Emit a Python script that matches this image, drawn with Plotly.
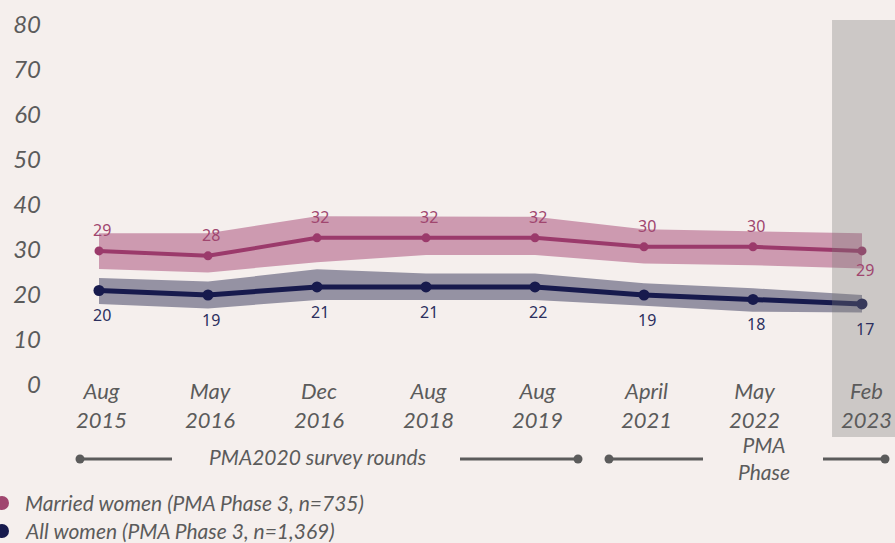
import plotly.graph_objects as go

# ---- data ----
categories = ["Aug<br>2015", "May<br>2016", "Dec<br>2016", "Aug<br>2018",
              "Aug<br>2019", "April<br>2021", "May<br>2022", "Feb<br>2023"]
married = [29.8, 28.7, 32.7, 32.7, 32.7, 30.7, 30.7, 29.8]
married_hi = [33.7, 33.7, 37.5, 37.4, 37.4, 34.6, 34.1, 33.7]
married_lo = [25.8, 25.0, 27.3, 28.9, 28.9, 27.0, 26.6, 25.9]
married_labels = ["29", "28", "32", "32", "32", "30", "30", "29"]

allw = [21.0, 20.0, 21.8, 21.8, 21.8, 20.0, 19.0, 18.0]
allw_hi = [23.8, 23.0, 25.7, 24.8, 24.8, 22.6, 21.5, 20.0]
allw_lo = [18.0, 17.0, 18.9, 18.9, 18.9, 17.6, 16.3, 16.1]
allw_labels = ["20", "19", "21", "21", "22", "19", "18", "17"]

y_ticks = [0, 10, 20, 30, 40, 50, 60, 70, 80]
legend_names = ["Married women (PMA Phase 3, n=735)", "All women (PMA Phase 3, n=1,369)"]

# ---- style ----
BG = "#f5efed"
M_LINE = "#9b3a6b"
M_BAND = "#cd9ab0"
M_TEXT = "#a0466f"
A_LINE = "#171a4d"
A_BAND = "#9592a3"
A_TEXT = "#2c2f5e"
GREY = "#5b5b5b"
W, H = 895, 543
L, R, T, B = 50, 0, 20, 106
PW, PH = W - L - R, H - T - B

def pxx(x):
    return (x - L) / PW

def pxy(y):
    return (H - B - y) / PH

x = list(range(len(categories)))

fig = go.Figure()

def band(hi, lo, color):
    fig.add_trace(go.Scatter(x=x, y=hi, mode="lines", line=dict(width=0, color=color),
                             showlegend=False, hoverinfo="skip"))
    fig.add_trace(go.Scatter(x=x, y=lo, mode="lines", line=dict(width=0, color=color),
                             fill="tonexty", fillcolor=color, showlegend=False, hoverinfo="skip"))

band(married_hi, married_lo, M_BAND)
band(allw_hi, allw_lo, A_BAND)

fig.add_trace(go.Scatter(x=x, y=married, mode="lines+markers",
                         line=dict(color=M_LINE, width=4), marker=dict(size=9, color=M_LINE),
                         showlegend=False))
fig.add_trace(go.Scatter(x=x, y=allw, mode="lines+markers",
                         line=dict(color=A_LINE, width=5), marker=dict(size=11, color=A_LINE),
                         showlegend=False))

annotations = []
label_font = "Noto Sans"
for i, (v, t) in enumerate(zip(married, married_labels)):
    shift = -19 if i == len(married) - 1 else 21
    annotations.append(dict(x=i, y=v, xref="x", yref="y", text=t, showarrow=False,
                            yshift=shift, xshift=3,
                            font=dict(family=label_font, size=16, color=M_TEXT)))
for i, (v, t) in enumerate(zip(allw, allw_labels)):
    annotations.append(dict(x=i, y=v, xref="x", yref="y", text=t, showarrow=False,
                            yshift=-25, xshift=3,
                            font=dict(family=label_font, size=16, color=A_TEXT)))

# category labels
for i, c in enumerate(categories):
    annotations.append(dict(x=i, y=pxy(405), xref="x", yref="paper", text=c, showarrow=False,
                            yanchor="middle", xanchor="center", xshift=2 + (3 if i == 7 else 0),
                            font=dict(family="Lato", size=22, color=GREY, style="italic")))

# bottom survey-round annotations
annotations.append(dict(x=pxx(317), y=pxy(456), xref="paper", yref="paper",
                        text="PMA2020 survey rounds", showarrow=False,
                        xanchor="center", yanchor="middle",
                        font=dict(family="Lato", size=21, color=GREY, style="italic")))
annotations.append(dict(x=pxx(764), y=pxy(458), xref="paper", yref="paper",
                        text="PMA<br>Phase", showarrow=False,
                        xanchor="center", yanchor="middle",
                        font=dict(family="Lato", size=21, color=GREY, style="italic")))

# legend text
for name, yy in zip(legend_names, [503, 530]):
    annotations.append(dict(x=pxx(23), y=pxy(yy), xref="paper", yref="paper", text=name,
                            showarrow=False, xanchor="left", yanchor="middle",
                            font=dict(family="Lato", size=21, color=GREY, style="italic")))

shapes = [
    dict(type="rect", xref="x", yref="paper", x0=6.725, x1=7.4, y0=0, y1=1,
         fillcolor="rgba(122,121,119,0.33)", line=dict(width=0), layer="above"),
]
seg_y = pxy(459)
for x0, x1 in [(80, 172), (460, 578), (609, 703), (823, 885)]:
    shapes.append(dict(type="line", xref="paper", yref="paper", x0=pxx(x0), x1=pxx(x1),
                       y0=seg_y, y1=seg_y, line=dict(color=GREY, width=3)))
for cx in [80, 578, 609, 885]:
    r = 4.5
    shapes.append(dict(type="circle", xref="paper", yref="paper",
                       x0=pxx(cx - r), x1=pxx(cx + r), y0=pxy(459 + r), y1=pxy(459 - r),
                       fillcolor=GREY, line=dict(width=0)))
for cy, col in [(503, M_TEXT), (531, A_LINE)]:
    r = 7
    shapes.append(dict(type="circle", xref="paper", yref="paper",
                       x0=pxx(2 - r), x1=pxx(2 + r), y0=pxy(cy + r), y1=pxy(cy - r),
                       fillcolor=col, line=dict(width=0)))

fig.update_layout(
    width=W, height=H, margin=dict(l=L, r=R, t=T, b=B),
    paper_bgcolor=BG, plot_bgcolor=BG,
    xaxis=dict(range=[-0.4495, 7.3028], showgrid=False, zeroline=False,
               showticklabels=False, showline=False, ticks=""),
    yaxis=dict(range=[-11.56, 81.11], tickvals=y_ticks, showgrid=False, zeroline=False,
               showline=False, ticks="", ticklabelstandoff=8,
               tickfont=dict(family="Lato", size=24, color=GREY, style="italic")),
    annotations=annotations, shapes=shapes, showlegend=False,
)

fig.write_html(
    "out.html",
    config={"displayModeBar": False},
    post_script="document.body.style.margin='0';document.body.style.overflow='hidden';"
                "document.body.style.background='" + BG + "';",
)
